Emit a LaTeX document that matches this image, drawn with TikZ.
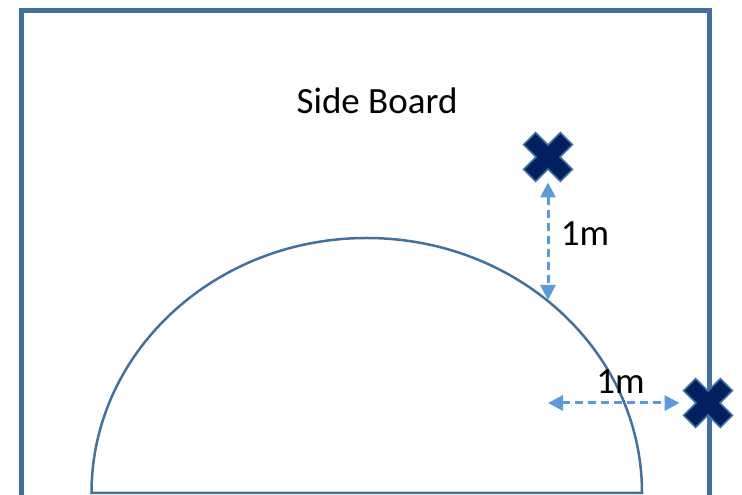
\documentclass[tikz,border=0pt]{standalone}
\usepackage{fontspec}
\setmainfont{Carlito}
\usetikzlibrary{arrows.meta}
\definecolor{frameblue}{HTML}{41719C}
\definecolor{navyx}{HTML}{002060}
\definecolor{arrowblue}{HTML}{5B9BD5}
\tikzset{
  framepath/.style={draw=frameblue, line width=4.5pt},
  courtarc/.style={draw=frameblue, line width=2.5pt},
  xspot/.style={minimum size=49pt, inner sep=0pt, outer sep=0pt},
  xshape/.style={fill=navyx, draw=frameblue, line width=1.6pt, line join=miter},
  dimarrow/.style={draw=arrowblue, line width=3pt, dash pattern=on 8pt off 5pt,
    {Triangle[length=15pt,width=15pt]}-{Triangle[length=15pt,width=15pt]}},
  lbl/.style={font=\fontsize{37}{44}\selectfont, inner sep=0pt, text=black}
}
\newcommand{\drawxmark}[1]{%
  \draw[xshape, shift={(#1)}]
    (12.37pt,24.4pt) -- (0pt,12.02pt) -- (-12.37pt,24.4pt) -- (-24.4pt,12.37pt) --
    (-12.02pt,0pt) -- (-24.4pt,-12.37pt) -- (-12.37pt,-24.4pt) -- (0pt,-12.02pt) --
    (12.37pt,-24.4pt) -- (24.4pt,-12.37pt) -- (12.02pt,0pt) -- (24.4pt,12.37pt) -- cycle;}
\begin{document}
\begin{tikzpicture}[x=1pt,y=1pt]
\useasboundingbox (0,0) rectangle (742,495);
% side board frame
\coordinate (fbl) at (21.5,-20);
\coordinate (ftl) at (21.5,484.5);
\coordinate (ftr) at (709.5,484.5);
\coordinate (fbr) at (709.5,-20);
\draw[framepath] (fbl) -- (ftl) -- (ftr) -- (fbr);
% semicircle
\coordinate (sl) at (91.5,2);
\coordinate (sr) at (642,2);
\draw[courtarc] (sl) arc[start angle=180, end angle=0, x radius=275.25pt, y radius=255pt] -- cycle;
% text
\node[lbl] (title) at (377,394) {Side Board};
% crosses
\node[xspot] (x1) at (548,338) {};
\node[xspot] (x2) at (708,92) {};
\drawxmark{x1.center}
\drawxmark{x2.center}
% arrows
\coordinate (a1) at (548,195);
\coordinate (h1) at (548,92);
\draw[dimarrow] ([yshift=-1pt]x1.south) -- (a1);
\draw[dimarrow] (h1) -- ([xshift=-4pt]x2.west);
\node[lbl] (m1) at (585,261) {1m};
\node[lbl] (m2) at (620.5,113) {1m};
\end{tikzpicture}
\end{document}
